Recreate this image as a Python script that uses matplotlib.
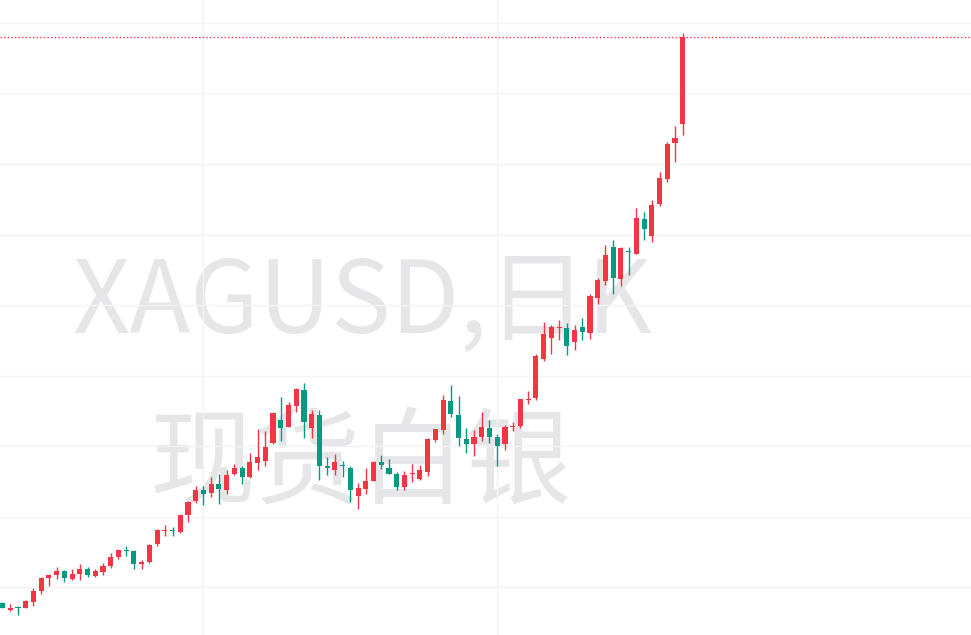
import matplotlib
matplotlib.use("Agg")
import matplotlib.pyplot as plt
import numpy as np

# XAGUSD daily candles
opens = [38.87, 38.37, 38.58, 38.53, 38.96, 39.74, 40.66, 40.87, 41.13, 40.59,
         40.94, 41.28, 40.80, 41.09, 41.51, 42.15, 42.62, 42.55, 41.65, 41.79,
         43.05, 43.95, 44.02, 43.88, 45.11, 46.10, 46.88, 46.69, 47.30, 46.90,
         48.04, 48.44, 47.80, 48.79, 48.96, 50.21, 51.84, 51.35, 52.86, 53.97,
         51.28, 52.20, 48.58, 48.30, 48.65, 48.44, 46.45, 46.95, 47.52, 48.87,
         48.44, 48.01, 47.11, 48.01, 47.66, 48.16, 50.43, 51.13, 53.19, 52.20,
         50.50, 50.14, 50.64, 51.28, 50.64, 50.14, 51.35, 51.42, 53.26, 53.43,
         56.19, 57.68, 58.37, 58.37, 57.40, 58.44, 58.04, 60.50, 61.72, 64.11,
         61.87, 63.83, 63.64, 66.10, 64.89, 67.16, 68.94, 71.49, 72.84]
highs = [38.94, 38.79, 38.65, 39.08, 39.91, 40.71, 40.94, 41.42, 41.23, 41.28,
         41.65, 41.42, 41.28, 41.70, 42.41, 42.70, 42.91, 42.62, 41.91, 43.05,
         44.11, 44.38, 44.26, 45.18, 46.10, 47.16, 47.16, 47.80, 48.01, 48.30,
         48.72, 48.58, 49.50, 51.21, 51.06, 52.41, 53.48, 53.12, 54.11, 54.47,
         52.55, 52.55, 49.22, 49.43, 48.94, 48.58, 47.38, 48.44, 48.94, 49.36,
         49.08, 48.16, 48.23, 48.72, 48.65, 50.57, 51.21, 53.62, 54.33, 53.55,
         51.28, 51.13, 52.41, 51.84, 50.85, 51.49, 51.70, 53.33, 53.90, 56.52,
         58.79, 58.58, 58.94, 58.72, 58.58, 59.08, 60.78, 61.91, 64.26, 64.61,
         64.11, 64.11, 66.88, 66.60, 67.45, 69.43, 71.56, 72.70, 79.29]
lows = [38.51, 38.30, 38.04, 38.50, 38.67, 39.52, 40.09, 40.59, 40.35, 40.52,
        40.50, 40.73, 40.73, 40.87, 41.37, 42.01, 42.20, 41.26, 41.26, 41.68,
        42.91, 43.62, 43.62, 43.81, 44.59, 45.94, 45.79, 46.40, 45.92, 46.62,
        47.96, 47.33, 47.73, 48.32, 48.58, 50.14, 50.38, 51.35, 52.41, 50.57,
        50.57, 47.59, 47.94, 47.94, 47.80, 46.03, 45.53, 46.60, 47.52, 48.37,
        48.01, 46.88, 46.88, 47.45, 47.59, 47.87, 50.28, 50.85, 52.06, 50.00,
        49.50, 49.29, 50.35, 50.21, 48.58, 49.72, 51.06, 51.28, 52.98, 53.26,
        56.05, 56.55, 57.52, 56.48, 56.83, 57.54, 57.61, 60.09, 61.44, 60.80,
        61.37, 62.15, 63.64, 64.61, 64.47, 67.02, 68.72, 70.14, 72.06]
closes = [38.55, 38.51, 38.55, 39.01, 39.72, 40.64, 40.87, 41.13, 40.66, 40.92,
          41.28, 40.87, 41.13, 41.49, 42.13, 42.62, 42.55, 41.65, 41.77, 42.98,
          44.04, 44.02, 43.95, 45.11, 46.03, 46.88, 46.62, 47.30, 46.97, 47.94,
          48.44, 47.82, 48.87, 49.22, 49.93, 52.34, 51.30, 52.91, 54.04, 51.70,
          52.27, 48.58, 48.44, 48.87, 48.58, 46.88, 47.02, 47.52, 48.87, 48.65,
          48.01, 47.11, 47.94, 48.09, 48.30, 50.50, 51.21, 53.26, 52.27, 50.57,
          50.14, 50.64, 51.35, 50.64, 50.00, 51.35, 51.42, 53.33, 53.33, 56.38,
          57.94, 58.44, 58.44, 57.11, 58.23, 58.11, 60.64, 61.77, 63.55, 61.94,
          64.04, 63.74, 66.17, 65.39, 67.09, 69.01, 71.42, 71.84, 79.01]

price_grid = [40, 45, 50, 55, 60, 65, 70, 75, 80]
month_starts = [26, 64]   # candle index of the vertical grid lines

up_color = "#F23645"
down_color = "#089981"
grid_color = "#f2f3f6"
mark_color = "#e6e6e9"

fig = plt.figure(figsize=(9.71, 6.35), dpi=100)
ax = fig.add_axes([0, 0, 1, 1])

x = np.arange(len(closes))
o = np.array(opens)
c = np.array(closes)
h = np.array(highs)
l = np.array(lows)
colors = [up_color if cc >= oo else down_color for oo, cc in zip(o, c)]

# wicks then bodies
ax.vlines(x, l, h, colors=colors, linewidth=1.0, zorder=3)
body_bottom = np.minimum(o, c)
body_height = np.maximum(np.abs(c - o), 0.07)
ax.bar(x, body_height, bottom=body_bottom, width=0.66, color=colors,
       linewidth=0, zorder=4)

# last price dotted line
ax.axhline(closes[-1], color=up_color, linestyle=(0, (1, 1.6)), linewidth=1.0, zorder=2)

for p in price_grid:
    ax.axhline(p, color=grid_color, linewidth=1.0, zorder=1)
for m in month_starts:
    ax.axvline(m, color=grid_color, linewidth=1.0, zorder=1)

# watermark
fam = ["Noto Sans CJK SC", "DejaVu Sans"]
ax.text(0.373, 0.477, "XAGUSD,日K", transform=ax.transAxes, ha="center", va="baseline",
        fontsize=72, color=mark_color, family=fam, zorder=0)
ax.text(0.371, 0.219, "现货白银", transform=ax.transAxes, ha="center", va="baseline",
        fontsize=76, color=mark_color, family=fam, zorder=0)

ax.set_xlim(-0.323, 125.29)
ax.set_ylim(36.60, 81.63)
ax.set_xticks([])
ax.set_yticks([])
for s in ax.spines.values():
    s.set_visible(False)

fig.savefig("out.png", dpi=100, facecolor="white")
